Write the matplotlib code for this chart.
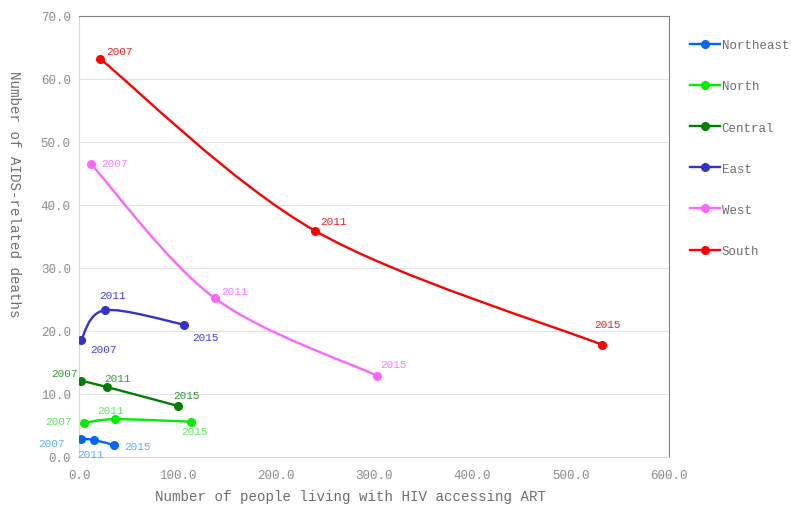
import matplotlib.pyplot as plt
from matplotlib.path import Path
from matplotlib.patches import PathPatch
from matplotlib.lines import Line2D

plt.rcParams["font.family"] = ["Liberation Mono", "DejaVu Sans Mono"]

regions = ["Northeast", "North", "Central", "East", "West", "South"]
years = ["2007", "2011", "2015"]

# x: people living with HIV accessing ART, y: AIDS-related deaths
art = {
    "Northeast": [2.0, 15.0, 35.6],
    "North": [5.0, 36.6, 114.0],
    "Central": [2.0, 28.5, 100.7],
    "East": [2.0, 26.4, 107.0],
    "West": [12.2, 138.0, 303.0],
    "South": [21.4, 240.0, 532.0],
}
deaths = {
    "Northeast": [2.9, 2.7, 1.9],
    "North": [5.4, 6.0, 5.6],
    "Central": [12.1, 11.1, 8.1],
    "East": [18.6, 23.3, 21.0],
    "West": [46.5, 25.2, 12.9],
    "South": [63.2, 35.9, 17.8],
}

line_colors = {
    "Northeast": "#0066FF",
    "North": "#00EE00",
    "Central": "#008000",
    "East": "#3333CC",
    "West": "#FF66FF",
    "South": "#FF0000",
}
label_colors = {
    "Northeast": "#5AAEFF",
    "North": "#55EE55",
    "Central": "#339933",
    "East": "#4444DD",
    "West": "#FF77FF",
    "South": "#EE2222",
}

# label offsets in pixels (dx, dy, ha) per point
offsets = {
    "Northeast": [(-16, -4, "right"), (-3, -14, "center"), (10, -1, "left")],
    "North": [(-12, 2, "right"), (-5, 9, "center"), (3, -9, "center")],
    "Central": [(-3, 8, "right"), (-3, 9, "left"), (8, 11, "center")],
    "East": [(9, -9, "left"), (7, 15, "center"), (8, -12, "left")],
    "West": [(10, 1, "left"), (6, 7, "left"), (3, 12, "left")],
    "South": [(6, 8, "left"), (5, 10, "left"), (5, 21, "center")],
}


def smooth_path(xs, ys):
    pts = list(zip(xs, ys))
    verts = [pts[0]]
    codes = [Path.MOVETO]
    n = len(pts)
    for i in range(n - 1):
        p0 = pts[i - 1] if i > 0 else pts[i]
        p1 = pts[i]
        p2 = pts[i + 1]
        p3 = pts[i + 2] if i + 2 < n else pts[i + 1]
        c1 = (p1[0] + (p2[0] - p0[0]) / 6, p1[1] + (p2[1] - p0[1]) / 6)
        c2 = (p2[0] - (p3[0] - p1[0]) / 6, p2[1] - (p3[1] - p1[1]) / 6)
        verts += [c1, c2, p2]
        codes += [Path.CURVE4] * 3
    return Path(verts, codes)


fig = plt.figure(figsize=(7.91, 5.10), dpi=100)
ax = fig.add_axes([0.0999, 0.102, 0.746, 0.8647])
ax.set_xlim(0, 600)
ax.set_ylim(0, 70)

handles = []
for r in regions:
    c = line_colors[r]
    ax.add_patch(PathPatch(smooth_path(art[r], deaths[r]), facecolor="none",
                           edgecolor=c, lw=1.7, zorder=3))
    ax.plot(art[r], deaths[r], "o", color=c, ms=5.5, zorder=4)
    for (x, y, yr, (dx, dy, ha)) in zip(art[r], deaths[r], years, offsets[r]):
        ax.annotate(yr, (x, y), xytext=(dx * 0.72, dy * 0.72),
                    textcoords="offset points", ha=ha, va="center",
                    fontsize=8, color=label_colors[r], zorder=5)
    handles.append(Line2D([], [], color=c, lw=1.7, marker="o", ms=5.5, label=r))

ax.set_xticks(range(0, 601, 100))
ax.set_yticks(range(0, 71, 10))
ax.set_xticklabels([f"{v:.1f}" for v in range(0, 601, 100)])
ax.set_yticklabels([f"{v:.1f}" for v in range(0, 71, 10)])
ax.tick_params(length=0, labelsize=9, colors="#8C8C8C", pad=6)
ax.tick_params(axis="x", pad=9)
ax.grid(axis="y", color="#E3E3E3", lw=0.8)
ax.set_axisbelow(True)
for side in ["left", "bottom"]:
    ax.spines[side].set_color("#D9D9D9")
for side in ["top", "right"]:
    ax.spines[side].set_color("#808080")

fig.text(0.443, 0.025, "Number of people living with HIV accessing ART",
         ha="center", va="center", fontsize=10.2, color="#6E6E6E")
fig.text(0.018, 0.62, "Number of AIDS-related deaths", rotation=-90,
         ha="center", va="center", fontsize=10.2, color="#6E6E6E")

fig.legend(handles=handles, loc="upper left", bbox_to_anchor=(0.872, 0.921),
           frameon=False, fontsize=9, labelspacing=2.33, handlelength=2.4,
           handletextpad=0.15, labelcolor="#6E6E6E", borderaxespad=0,
           borderpad=0)

fig.savefig("out.png", dpi=100)
